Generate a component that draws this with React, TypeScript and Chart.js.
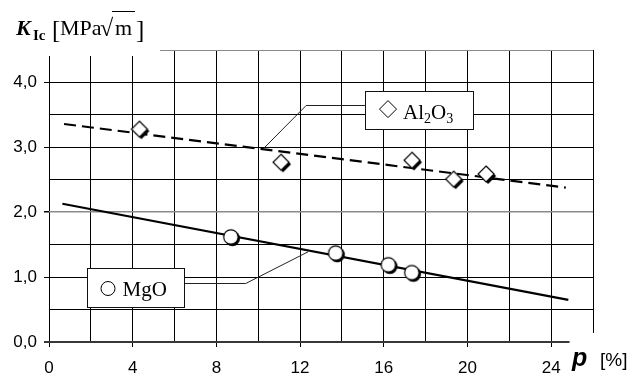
import React, { useEffect, useRef } from "react";
import { Chart, registerables } from "chart.js";

Chart.register(...registerables);

// ---- data (p [%], K_Ic [MPa·√m]) ----
const al2o3P = [4.32, 11.09, 17.35, 19.34, 20.89];
const al2o3K = [3.28, 2.77, 2.8, 2.51, 2.59];
const mgoP = [8.69, 13.7, 16.22, 17.34];
const mgoK = [1.62, 1.37, 1.19, 1.07];

// trend lines (end points)
const al2o3FitP = [0.72, 24.7];
const al2o3FitK = [3.36, 2.38];
const mgoFitP = [0.64, 24.82];
const mgoFitK = [2.13, 0.65];

// axes
const xMin = 0;
const xMax = 26;
const xStep = 2;
const xLabelEvery = 4;
const xLabelMax = 24;
const yMin = 0;
const yMax = 4.5;
const yStep = 0.5;

// callout labels, anchored in data units
const al2o3Label = "Al";
const mgoLabel = "MgO";
const al2o3Box = { x0: 15.1, x1: 20.25, y0: 3.872, y1: 3.277 };
const al2o3Leader = [
  [15.1, 3.655],
  [12.29, 3.655],
  [10.28, 2.99],
];
const mgoBox = { x0: 1.8, x1: 6.45, y0: 1.136, y1: 0.535 };
const mgoLeader = [
  [6.45, 0.914],
  [9.4, 0.914],
  [12.39, 1.391],
];

const SERIF = '"Liberation Serif", "Times New Roman", serif';
const SANS = '"Liberation Sans", Arial, sans-serif';

function makeDiamond(): HTMLCanvasElement {
  const c = document.createElement("canvas");
  c.width = 28;
  c.height = 28;
  const g = c.getContext("2d")!;
  const cx = 14;
  const h = 8;
  const dia = (ox: number, oy: number) => {
    g.beginPath();
    g.moveTo(cx + ox, cx + oy - h);
    g.lineTo(cx + ox + h, cx + oy);
    g.lineTo(cx + ox, cx + oy + h);
    g.lineTo(cx + ox - h, cx + oy);
    g.closePath();
  };
  g.fillStyle = "#000";
  dia(2, 2);
  g.fill();
  g.fillStyle = "#fff";
  g.strokeStyle = "#000";
  g.lineWidth = 1.2;
  dia(0, 0);
  g.fill();
  g.stroke();
  return c;
}

function makeCircle(): HTMLCanvasElement {
  const c = document.createElement("canvas");
  c.width = 26;
  c.height = 26;
  const g = c.getContext("2d")!;
  const cx = 13;
  const r = 7.2;
  g.fillStyle = "#000";
  g.beginPath();
  g.arc(cx + 1.6, cx + 1.6, r + 0.4, 0, Math.PI * 2);
  g.fill();
  g.fillStyle = "#fff";
  g.strokeStyle = "#000";
  g.lineWidth = 1.2;
  g.beginPath();
  g.arc(cx, cx, r, 0, Math.PI * 2);
  g.fill();
  g.stroke();
  return c;
}

const decorPlugin = {
  id: "decor",
  afterDraw(chart: any) {
    const ctx: CanvasRenderingContext2D = chart.ctx;
    const xs = chart.scales.x;
    const ys = chart.scales.y;
    const area = chart.chartArea;
    const px = (v: number) => xs.getPixelForValue(v);
    const py = (v: number) => ys.getPixelForValue(v);
    ctx.save();

    // bottom axis line (ends short of right border)
    const y0 = Math.round(py(0));
    ctx.strokeStyle = "#383838";
    ctx.lineWidth = 2;
    ctx.beginPath();
    ctx.moveTo(area.left - 5, y0);
    ctx.lineTo(px(24.88), y0);
    ctx.stroke();

    // right border (ends above the axis line)
    const xr = Math.round(px(xMax)) + 0.5;
    ctx.strokeStyle = "#000";
    ctx.lineWidth = 1;
    ctx.beginPath();
    ctx.moveTo(xr, area.top);
    ctx.lineTo(xr, py(0.14));
    ctx.stroke();

    // title background
    ctx.fillStyle = "#fff";
    ctx.fillRect(0, 0, 160, 56);

    // y title: K_Ic [MPa √m]
    ctx.fillStyle = "#000";
    ctx.textAlign = "left";
    ctx.textBaseline = "alphabetic";
    ctx.font = `bold italic 22px ${SERIF}`;
    ctx.fillText("K", 16, 35);
    ctx.font = `bold 15px ${SERIF}`;
    ctx.fillText("Ic", 33, 40);
    ctx.font = `25px ${SERIF}`;
    ctx.fillText("[", 52, 38);
    ctx.font = `22px ${SERIF}`;
    ctx.fillText("MPa", 60, 35);
    ctx.font = `24px ${SERIF}`;
    ctx.fillText("√", 100, 36);
    ctx.font = `22px ${SERIF}`;
    ctx.fillText("m", 115, 35);
    ctx.strokeStyle = "#000";
    ctx.lineWidth = 1;
    ctx.beginPath();
    ctx.moveTo(112, 11.5);
    ctx.lineTo(135, 11.5);
    ctx.stroke();
    ctx.font = `25px ${SERIF}`;
    ctx.fillText("]", 136, 38);

    // x title: p [%]
    ctx.font = `bold italic 25px ${SANS}`;
    ctx.fillText("p", 572, 366);
    ctx.font = `19px ${SANS}`;
    ctx.fillText("[%]", 600, 366);

    // callouts
    const drawLeader = (pts: number[][]) => {
      ctx.strokeStyle = "#222";
      ctx.lineWidth = 1;
      ctx.beginPath();
      pts.forEach(([a, b], i) => {
        const X = px(a);
        const Y = Math.round(py(b)) + 0.5;
        if (i === 0) ctx.moveTo(X, Y);
        else ctx.lineTo(X, i === pts.length - 1 ? py(b) : Y);
      });
      ctx.stroke();
    };
    const drawBox = (b: { x0: number; x1: number; y0: number; y1: number }) => {
      const L = Math.round(px(b.x0)) + 0.5;
      const R = Math.round(px(b.x1)) + 0.5;
      const T = Math.round(py(b.y0)) + 0.5;
      const B = Math.round(py(b.y1)) + 0.5;
      ctx.fillStyle = "#fff";
      ctx.fillRect(L, T, R - L, B - T);
      ctx.strokeStyle = "#111";
      ctx.lineWidth = 1;
      ctx.strokeRect(L, T, R - L, B - T);
      return { L, T, R, B };
    };

    drawLeader(al2o3Leader);
    drawLeader(mgoLeader);

    const a = drawBox(al2o3Box);
    // diamond symbol
    const dcx = a.L + 22.5;
    const dcy = a.T + 17.6;
    const dh = 8.5;
    ctx.strokeStyle = "#000";
    ctx.lineWidth = 1;
    ctx.beginPath();
    ctx.moveTo(dcx, dcy - dh);
    ctx.lineTo(dcx + dh, dcy);
    ctx.lineTo(dcx, dcy + dh);
    ctx.lineTo(dcx - dh, dcy);
    ctx.closePath();
    ctx.stroke();
    ctx.fillStyle = "#000";
    let tx = a.L + 37.5;
    const tb = a.T + 27;
    ctx.font = `21px ${SERIF}`;
    ctx.fillText(al2o3Label, tx, tb);
    tx += ctx.measureText(al2o3Label).width;
    ctx.font = `14px ${SERIF}`;
    ctx.fillText("2", tx, tb + 4);
    tx += ctx.measureText("2").width;
    ctx.font = `21px ${SERIF}`;
    ctx.fillText("O", tx, tb);
    tx += ctx.measureText("O").width;
    ctx.font = `14px ${SERIF}`;
    ctx.fillText("3", tx, tb + 4);

    const m = drawBox(mgoBox);
    ctx.strokeStyle = "#000";
    ctx.lineWidth = 1;
    ctx.beginPath();
    ctx.arc(m.L + 20.5, m.T + 20, 7, 0, Math.PI * 2);
    ctx.stroke();
    ctx.fillStyle = "#000";
    ctx.font = `21px ${SERIF}`;
    ctx.fillText(mgoLabel, m.L + 35, m.T + 27.5);

    ctx.restore();
  },
};

export default function App() {
  const canvasRef = useRef<HTMLCanvasElement | null>(null);

  useEffect(() => {
    if (!canvasRef.current) return;
    const diamond = makeDiamond();
    const circle = makeCircle();

    const chart = new Chart(canvasRef.current, {
      type: "scatter",
      data: {
        datasets: [
          {
            label: "Al2O3 fit",
            data: al2o3FitP.map((p, i) => ({ x: p, y: al2o3FitK[i] })),
            showLine: true,
            borderColor: "#000",
            borderWidth: 2.2,
            borderDash: [12, 6],
            pointRadius: 0,
            order: 2,
          },
          {
            label: "MgO fit",
            data: mgoFitP.map((p, i) => ({ x: p, y: mgoFitK[i] })),
            showLine: true,
            borderColor: "#000",
            borderWidth: 2.2,
            pointRadius: 0,
            order: 2,
          },
          {
            label: "Al2O3",
            data: al2o3P.map((p, i) => ({ x: p, y: al2o3K[i] })),
            pointStyle: diamond as any,
            pointRadius: 9,
            showLine: false,
            order: 1,
          },
          {
            label: "MgO",
            data: mgoP.map((p, i) => ({ x: p, y: mgoK[i] })),
            pointStyle: circle as any,
            pointRadius: 9,
            showLine: false,
            order: 1,
          },
        ],
      },
      options: {
        responsive: false,
        animation: false,
        devicePixelRatio: 1,
        layout: { padding: { left: 0, top: 50, right: 39, bottom: 0 } },
        plugins: {
          legend: { display: false },
          tooltip: { enabled: false },
          title: { display: false },
        },
        scales: {
          x: {
            type: "linear",
            min: xMin,
            max: xMax,
            border: { display: false },
            afterFit: (s: any) => {
              s.height = 34;
            },
            grid: {
              color: (c: any) => (c.tick && c.tick.value === xMax ? "rgba(0,0,0,0)" : "#000"),
              lineWidth: 1,
              tickLength: 5,
              tickColor: (c: any) =>
                c.tick && c.tick.value % xLabelEvery === 0 && c.tick.value <= xLabelMax
                  ? "#000"
                  : "rgba(0,0,0,0)",
            },
            ticks: {
              stepSize: xStep,
              autoSkip: false,
              maxRotation: 0,
              padding: 11,
              color: "#000",
              font: { family: SANS, size: 17 },
              callback: (v: any) =>
                Number(v) % xLabelEvery === 0 && Number(v) <= xLabelMax ? String(v) : "",
            },
          },
          y: {
            type: "linear",
            min: yMin,
            max: yMax,
            border: { display: false },
            afterFit: (s: any) => {
              s.width = 49;
            },
            grid: {
              color: (c: any) => {
                const v = c.tick ? c.tick.value : -1;
                if (v === 0) return "rgba(0,0,0,0)";
                if (v === 2 || v === yMax) return "#8a8a8a";
                return "#000";
              },
              lineWidth: (c: any) => {
                const v = c.tick ? c.tick.value : -1;
                return v === 2 ? 1.5 : 1;
              },
              tickLength: 5,
              tickColor: (c: any) =>
                c.tick && Number.isInteger(c.tick.value) ? "#000" : "rgba(0,0,0,0)",
            },
            ticks: {
              stepSize: yStep,
              autoSkip: false,
              padding: 7,
              color: "#000",
              font: { family: SANS, size: 17 },
              callback: (v: any) =>
                Number.isInteger(Number(v)) ? Number(v).toFixed(1).replace(".", ",") : "",
            },
          },
        },
      } as any,
      plugins: [decorPlugin],
    });

    return () => chart.destroy();
  }, []);

  return (
    <div style={{ position: "absolute", left: 0, top: 0, width: 632, height: 376, background: "#fff" }}>
      <canvas ref={canvasRef} width={632} height={376} style={{ display: "block" }} />
    </div>
  );
}
